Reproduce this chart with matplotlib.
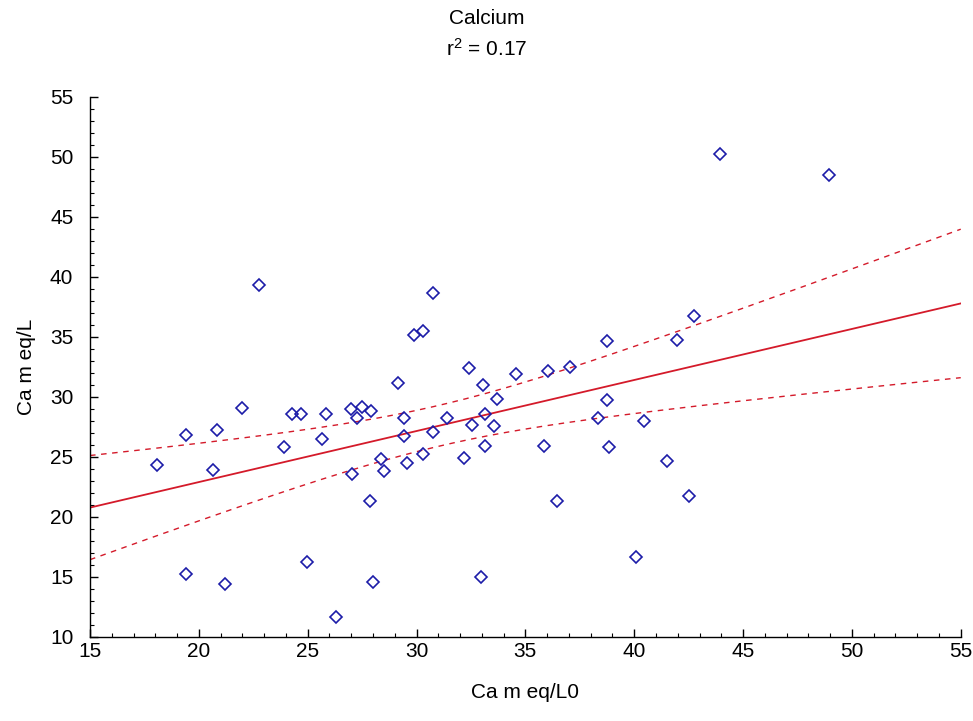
import numpy as np
import matplotlib
matplotlib.use("Agg")
import matplotlib.pyplot as plt
from matplotlib.ticker import MultipleLocator

# ---- data ----
ca_l0 = [18.08, 19.42, 19.42, 20.63, 20.85, 21.19, 21.98, 22.75, 23.89, 24.29,
         24.69, 24.96, 25.67, 25.85, 26.31, 27.00, 27.26, 27.51, 27.92, 27.03,
         28.36, 28.51, 27.87, 28.00, 29.17, 29.43, 29.43, 29.57, 29.88, 30.32,
         30.32, 30.77, 30.77, 31.39, 32.16, 32.39, 32.55, 32.96, 33.06, 33.15,
         33.16, 33.55, 33.70, 34.56, 35.84, 36.02, 36.45, 37.03, 38.33, 43.94,
         48.97, 42.75, 41.96, 38.76, 38.76, 40.44, 38.84, 41.49, 42.52, 40.06]
ca_l = [24.33, 26.78, 15.22, 23.89, 27.22, 14.37, 29.08, 39.31, 25.78, 28.53,
        28.53, 16.25, 26.50, 28.53, 11.64, 28.98, 28.22, 29.14, 28.83, 23.60,
        24.78, 23.78, 21.31, 14.53, 31.12, 28.25, 26.75, 24.48, 35.14, 35.48,
        25.22, 38.64, 27.06, 28.25, 24.89, 32.42, 27.67, 14.95, 30.98, 28.56,
        25.92, 27.53, 29.83, 31.86, 25.92, 32.14, 21.33, 32.45, 28.25, 50.20,
        48.45, 36.75, 34.75, 34.61, 29.70, 28.00, 25.79, 24.64, 21.75, 16.67]

x_ticks = [15, 20, 25, 30, 35, 40, 45, 50, 55]
y_ticks = [10, 15, 20, 25, 30, 35, 40, 45, 50, 55]
title_text = "Calcium\n$\\mathregular{r^2}$ = 0.17"
x_label = "Ca m eq/L0"
y_label = "Ca m eq/L"

plt.rcParams['font.family'] = ['Liberation Sans', 'DejaVu Sans']

x = np.array(ca_l0)
y = np.array(ca_l)
n = len(x)
slope, intercept = np.polyfit(x, y, 1)
xs = np.linspace(x_ticks[0], x_ticks[-1], 200)
fit = intercept + slope * xs
resid = y - (intercept + slope * x)
s = np.sqrt(np.sum(resid ** 2) / (n - 2))
sxx = np.sum((x - x.mean()) ** 2)
tval = 2.0017  # t(0.975, 58)
half = tval * s * np.sqrt(1.0 / n + (xs - x.mean()) ** 2 / sxx)

fig = plt.figure(figsize=(9.73, 7.21), dpi=100)
ax = fig.add_axes([0.0925, 0.1169, 0.8949, 0.749])

red = '#d41a2a'
ax.plot(xs, fit, color=red, lw=1.3)
ax.plot(xs, fit + half, color=red, lw=1.0, ls=(0, (4, 4)))
ax.plot(xs, fit - half, color=red, lw=1.0, ls=(0, (4, 4)))
ax.plot(x, y, ls='none', marker='D', ms=6.3, mfc='none', mec='#1c1ca8', mew=1.2)

ax.set_xlim(x_ticks[0], x_ticks[-1])
ax.set_ylim(y_ticks[0], y_ticks[-1])
ax.set_xticks(x_ticks)
ax.set_yticks(y_ticks)
ax.xaxis.set_minor_locator(MultipleLocator(1))
ax.yaxis.set_minor_locator(MultipleLocator(1))
for sp in ['top', 'right']:
    ax.spines[sp].set_visible(False)
ax.spines['left'].set_linewidth(1.0)
ax.spines['bottom'].set_linewidth(1.0)
ax.tick_params(which='major', direction='in', length=6, width=1.0, labelsize=15)
ax.tick_params(which='minor', direction='in', length=3, width=0.8)
ax.tick_params(axis='y', pad=12)
ax.tick_params(axis='x', pad=4)

ax.set_xlabel(x_label, fontsize=15, labelpad=16)
ax.set_ylabel(y_label, fontsize=15, labelpad=10)
fig.text(0.5, 0.988, title_text, ha='center', va='top', fontsize=15, linespacing=1.55)

fig.savefig('out.png', dpi=100)
